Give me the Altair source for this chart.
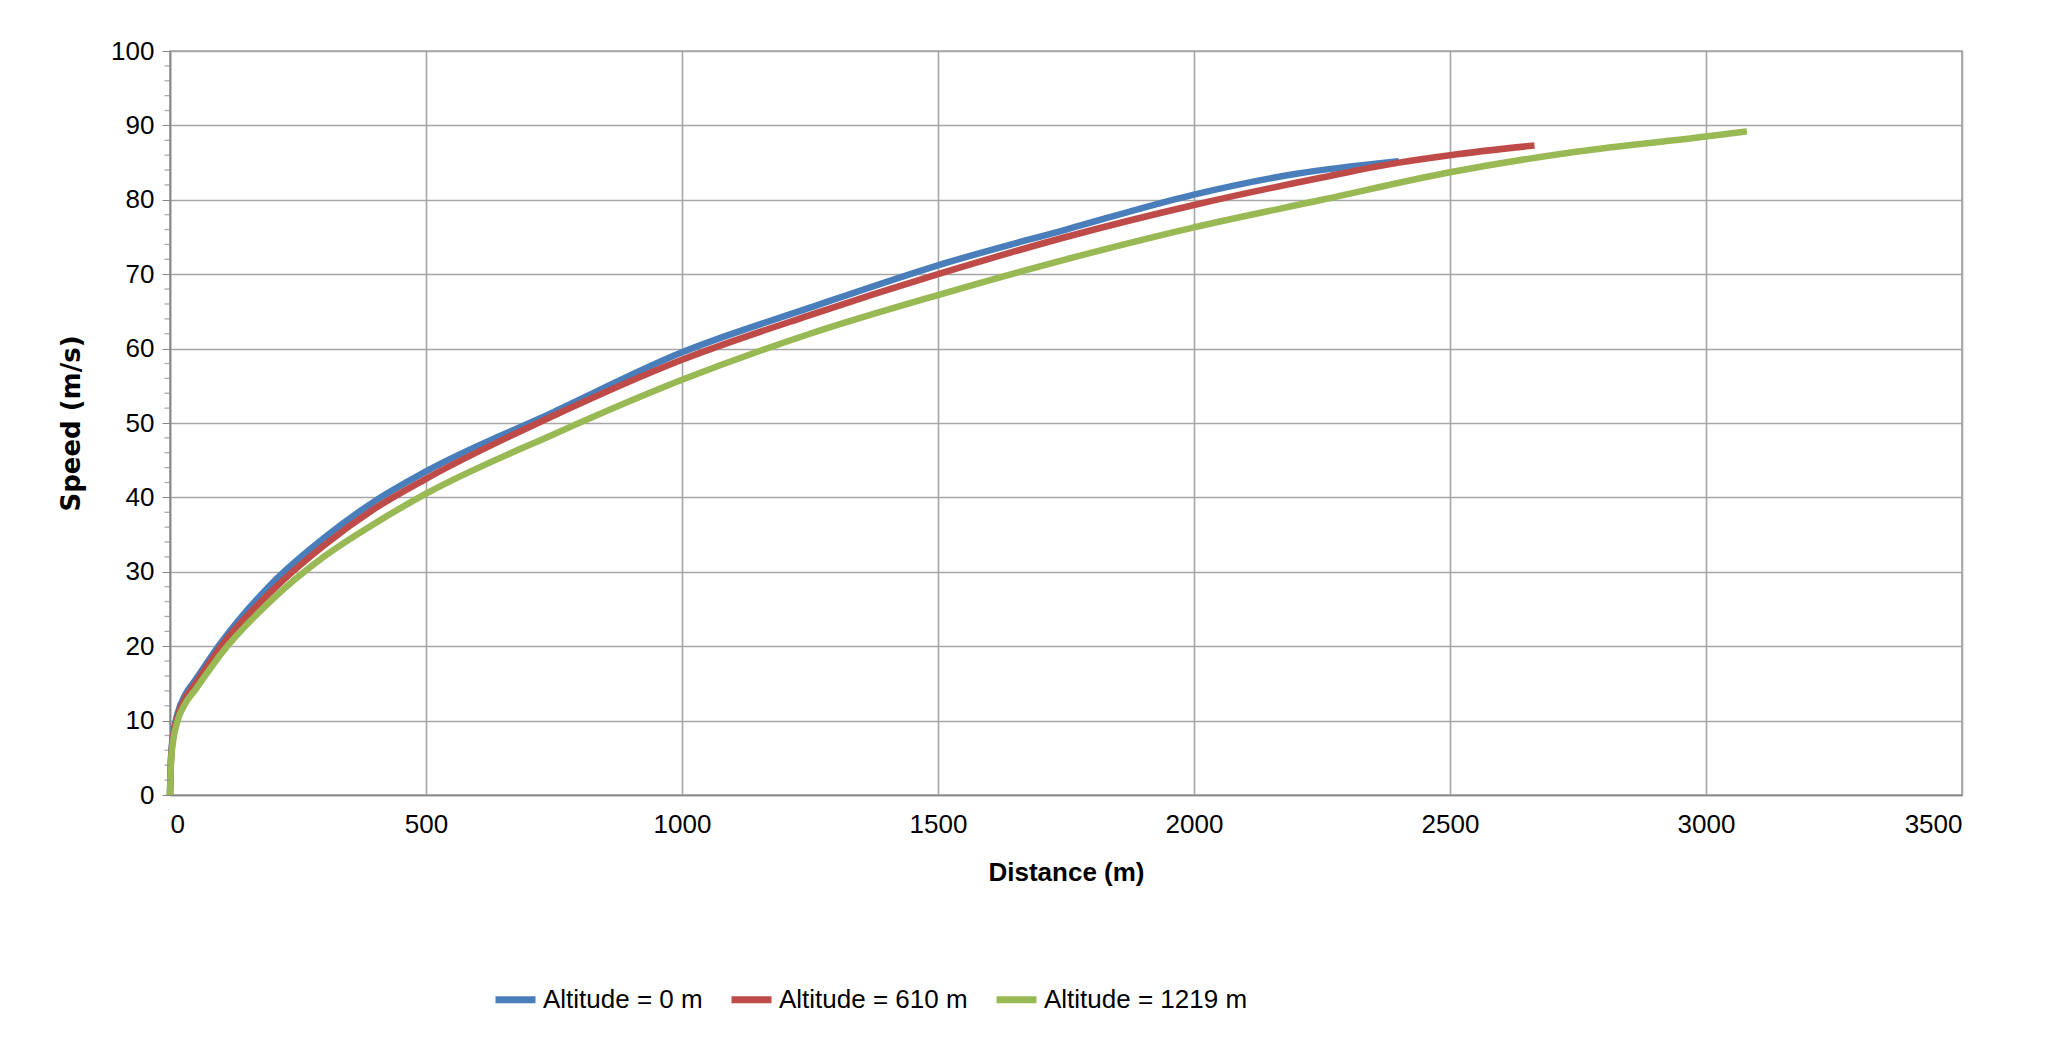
import altair as alt
import pandas as pd

d0 = [0,2,6,15,30,50,100,200,300,400,500,750,1000,1250,1500,1750,2000,2200,2400]
s0 = [0,5,8,11,13.5,15.5,20.5,28.5,34.5,39.5,43.5,51.5,59.5,65.5,71.2,76,80.7,83.5,85.2]
d1 = [0,2,6,15,30,50,100,200,300,400,500,750,1000,1250,1500,1750,2000,2250,2400,2500,2665]
s1 = [0,4.8,7.7,10.6,13,15,20,27.5,33.5,38.5,42.5,51,58.5,64.5,70,75,79.3,83,85,86,87.3]
d2 = [0,2,6,15,30,50,100,200,300,400,500,750,1000,1250,1500,1750,2000,2250,2500,2750,3000,3080]
s2 = [0,4.5,7.2,10,12.3,14.2,19,26.3,32,36.5,40.5,48.5,55.8,62,67.2,72,76.3,80,83.7,86.5,88.5,89.2]
names = ["Altitude = 0 m", "Altitude = 610 m", "Altitude = 1219 m"]
colors = ["#4A7EBB", "#BE4B48", "#98B954"]
minor = [v for v in range(0, 101, 2) if v % 10]

rows = []
for n, ds, ss in zip(names, [d0, d1, d2], [s0, s1, s2]):
    for i, (d, s) in enumerate(zip(ds, ss)):
        rows.append({"series": n, "d": d, "s": s, "o": i})
df = pd.DataFrame(rows)

font = "Liberation Sans"
lines = alt.Chart(df).mark_line(strokeWidth=6.5, interpolate="monotone").encode(
    x=alt.X("d:Q", title="Distance (m)", scale=alt.Scale(domain=[0, 3500]),
            axis=alt.Axis(values=list(range(0, 3501, 500)), format="d", tickSize=0, labelPadding=16,
                          titlePadding=22)),
    y=alt.Y("s:Q", title="Speed (m/s)", scale=alt.Scale(domain=[0, 100]),
            axis=alt.Axis(values=list(range(0, 101, 10)), format="d", tickSize=8, labelPadding=8,
                          titlePadding=26, titleFont="DejaVu Sans")),
    order="o:Q",
    color=alt.Color("series:N", sort=names,
                    scale=alt.Scale(domain=names, range=colors),
                    legend=alt.Legend(orient="none", legendX=322, legendY=925, direction="horizontal", title=None,
                                      symbolType="stroke", symbolStrokeWidth=7, symbolSize=1600,
                                      labelFontSize=26, labelFont=font, columnPadding=14,
                                      labelLimit=0, labelOffset=4)),
)
ticks = alt.Chart(pd.DataFrame({"m": minor})).mark_tick(orient="horizontal", size=5, thickness=1.3, color="#868686").encode(
    y="m:Q", x=alt.value(-3))

chart = alt.layer(lines, ticks).properties(width=1792, height=744, padding={"left": 50, "top": 30, "right": 40, "bottom": 5}).configure_axis(
    gridColor="#A6A6A6", gridWidth=1.6, domainColor="#868686", domainWidth=1.6, tickColor="#868686",
    labelFont=font, labelFontSize=26, labelColor="black", titleFont=font, titleFontSize=26,
    titleColor="black", titleFontWeight="bold"
).configure_view(stroke="#A6A6A6", strokeWidth=1.6)

chart.save("out.html", embed_options={"renderer": "svg", "actions": False})
